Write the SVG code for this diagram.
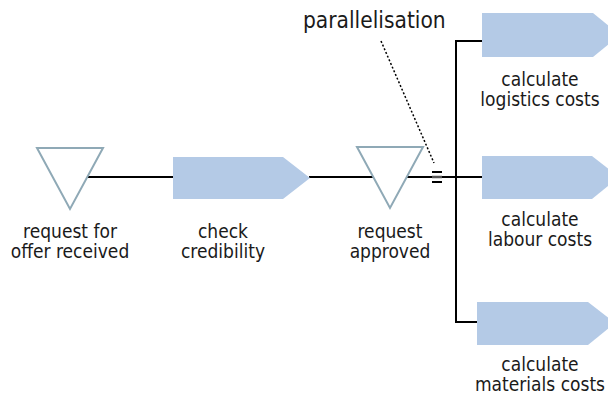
<svg xmlns="http://www.w3.org/2000/svg" width="608" height="396" viewBox="0 0 608 396">
<style>
.ev{fill:#ffffff;stroke:#8fa9b6;stroke-width:2}
.fn{fill:#b4cae6;stroke:none}
.ln{fill:none;stroke:#000000;stroke-width:2}
.t{font-family:"DejaVu Sans Condensed","DejaVu Sans",Verdana,sans-serif;font-stretch:condensed;font-size:19px;fill:#1a1a1a;text-anchor:middle}
.tl{font-family:"DejaVu Sans Condensed","DejaVu Sans",Verdana,sans-serif;font-stretch:condensed;font-size:22.5px;fill:#1a1a1a}
</style>
<rect width="608" height="396" fill="#ffffff"/>
<g id="connectors">
<line class="ln" x1="88" y1="177" x2="174" y2="177"/>
<line class="ln" x1="309" y1="177" x2="373" y2="177"/>
<line class="ln" x1="407" y1="177" x2="483" y2="177"/>
<polyline class="ln" points="483,41 456,41 456,322 478,322"/>
<line x1="381" y1="41" x2="434" y2="163" stroke="#000" stroke-width="1.5" stroke-dasharray="2,2"/>
<line x1="432" y1="172" x2="442" y2="172" stroke="#000" stroke-width="2"/>
<line x1="432" y1="177" x2="442" y2="177" stroke="#555" stroke-width="2.5"/>
<line x1="432" y1="182" x2="442" y2="182" stroke="#000" stroke-width="2"/>
</g>
<g id="request-for-offer-received">
<polygon class="ev" points="37,148 103,148 70,209"/>
<text class="t" x="70" y="238">request for</text>
<text class="t" x="70" y="258">offer received</text>
</g>
<g id="check-credibility">
<polygon class="fn" points="173,157 283,157 310,178 283,199 173,199"/>
<text class="t" x="223" y="238">check</text>
<text class="t" x="223" y="258">credibility</text>
</g>
<g id="request-approved">
<polygon class="ev" points="357,147 423,147 390,208"/>
<text class="t" x="390" y="238">request</text>
<text class="t" x="390" y="258">approved</text>
</g>
<g id="parallelisation">
<text class="tl" x="303" y="28">parallelisation</text>
</g>
<g id="calculate-logistics-costs">
<polygon class="fn" points="482,13 593,13 620,35 593,57 482,57"/>
<text class="t" x="540" y="86">calculate</text>
<text class="t" x="540" y="106">logistics costs</text>
</g>
<g id="calculate-labour-costs">
<polygon class="fn" points="482,156 592,156 619,177 592,199 482,199"/>
<text class="t" x="540" y="226">calculate</text>
<text class="t" x="540" y="246">labour costs</text>
</g>
<g id="calculate-materials-costs">
<polygon class="fn" points="477,302 588,302 615,323 588,345 477,345"/>
<text class="t" x="540" y="371">calculate</text>
<text class="t" x="540" y="391">materials costs</text>
</g>
</svg>
